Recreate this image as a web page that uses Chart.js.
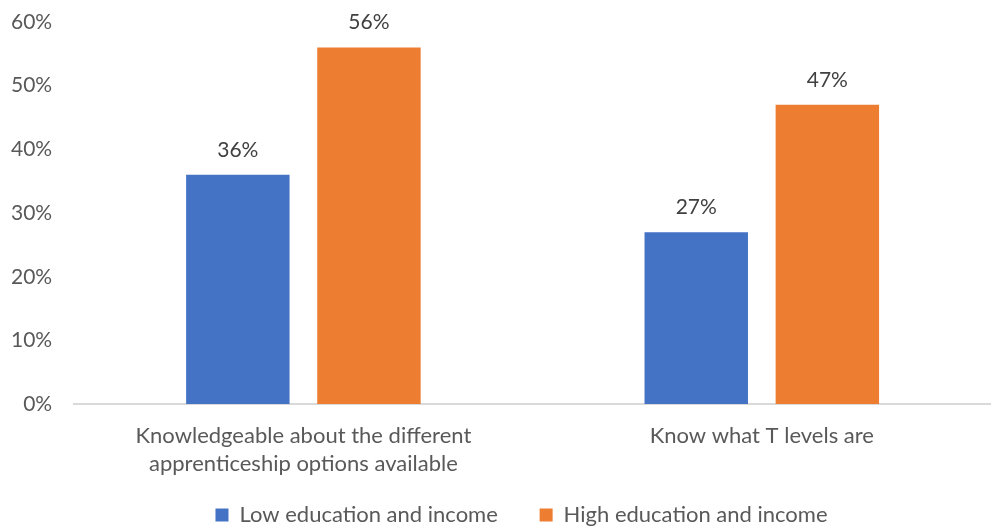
<!DOCTYPE html>
<html>
<head>
<meta charset="utf-8">
<script src="https://cdn.jsdelivr.net/npm/chart.js@4"></script>
<style>
  html, body { margin: 0; padding: 0; background: #fff; }
  #wrap { width: 991px; height: 528px; }
</style>
</head>
<body>
<div id="wrap"><canvas id="myChart" width="991" height="528"></canvas></div>
<script>
const categories = [
  ["Knowledgeable about the different", "apprenticeship options available"],
  "Know what T levels are",
];
const lowValues = [36, 27];
const highValues = [56, 47];
const seriesNames = ["Low education and income", "High education and income"];

const textColor = "#595959";
const font = "Lato, 'Open Sans', sans-serif";

// draw the % value above each bar
const valueLabels = {
  id: "valueLabels",
  afterDatasetsDraw(chart) {
    const ctx = chart.ctx;
    ctx.save();
    ctx.fillStyle = "#404040";
    ctx.font = "21px " + font;
    ctx.textAlign = "center";
    ctx.textBaseline = "middle";
    chart.data.datasets.forEach((ds, i) => {
      chart.getDatasetMeta(i).data.forEach((bar, j) => {
        ctx.fillText(ds.data[j] + "%", bar.x, bar.y - 25);
      });
    });
    ctx.restore();
  },
};

// legend sits a little right of centre in the original
const legendShift = {
  id: "legendShift",
  afterLayout(chart) {
    chart.legend.left += 25;
    chart.legend.right += 25;
  },
};

const data = {
  labels: categories,
  datasets: [
    {
      label: seriesNames[0],
      backgroundColor: "rgb(68, 114, 196)",
      data: lowValues,
    },
    {
      label: seriesNames[1],
      backgroundColor: "rgb(237, 125, 49)",
      data: highValues,
    },
  ],
};

const config = {
  type: "bar",
  data: data,
  plugins: [valueLabels, legendShift],
  options: {
    responsive: false,
    animation: false,
    layout: { padding: { top: 22, right: -13, left: -11, bottom: -8 } },
    categoryPercentage: 0.572,
    barPercentage: 0.789,
    plugins: {
      tooltip: { enabled: false },
      legend: {
        position: "bottom",
        labels: {
          color: textColor,
          font: { family: font, size: 22 },
          boxWidth: 13,
          boxHeight: 13,
          padding: 8,
          // extra room after the first item
          generateLabels(chart) {
            const items = Chart.defaults.plugins.legend.labels.generateLabels(chart);
            items[0].text = items[0].text + "      ";
            return items;
          },
        },
      },
    },
    scales: {
      x: {
        grid: { display: false, drawTicks: false },
        border: { color: "#d9d9d9", width: 2 },
        ticks: {
          color: textColor,
          font: { family: font, size: 22, lineHeight: 1.27 },
          maxRotation: 0,
          padding: 18,
        },
      },
      y: {
        min: 0,
        max: 60,
        grid: { display: false, drawTicks: false },
        border: { display: false },
        afterFit(scale) {
          scale.paddingTop = 0;
        },
        ticks: {
          stepSize: 10,
          color: textColor,
          font: { family: font, size: 21 },
          padding: 22,
          callback: (v) => v + "%",
        },
      },
    },
  },
};

const myChart = new Chart(document.getElementById("myChart"), config);
</script>
</body>
</html>
